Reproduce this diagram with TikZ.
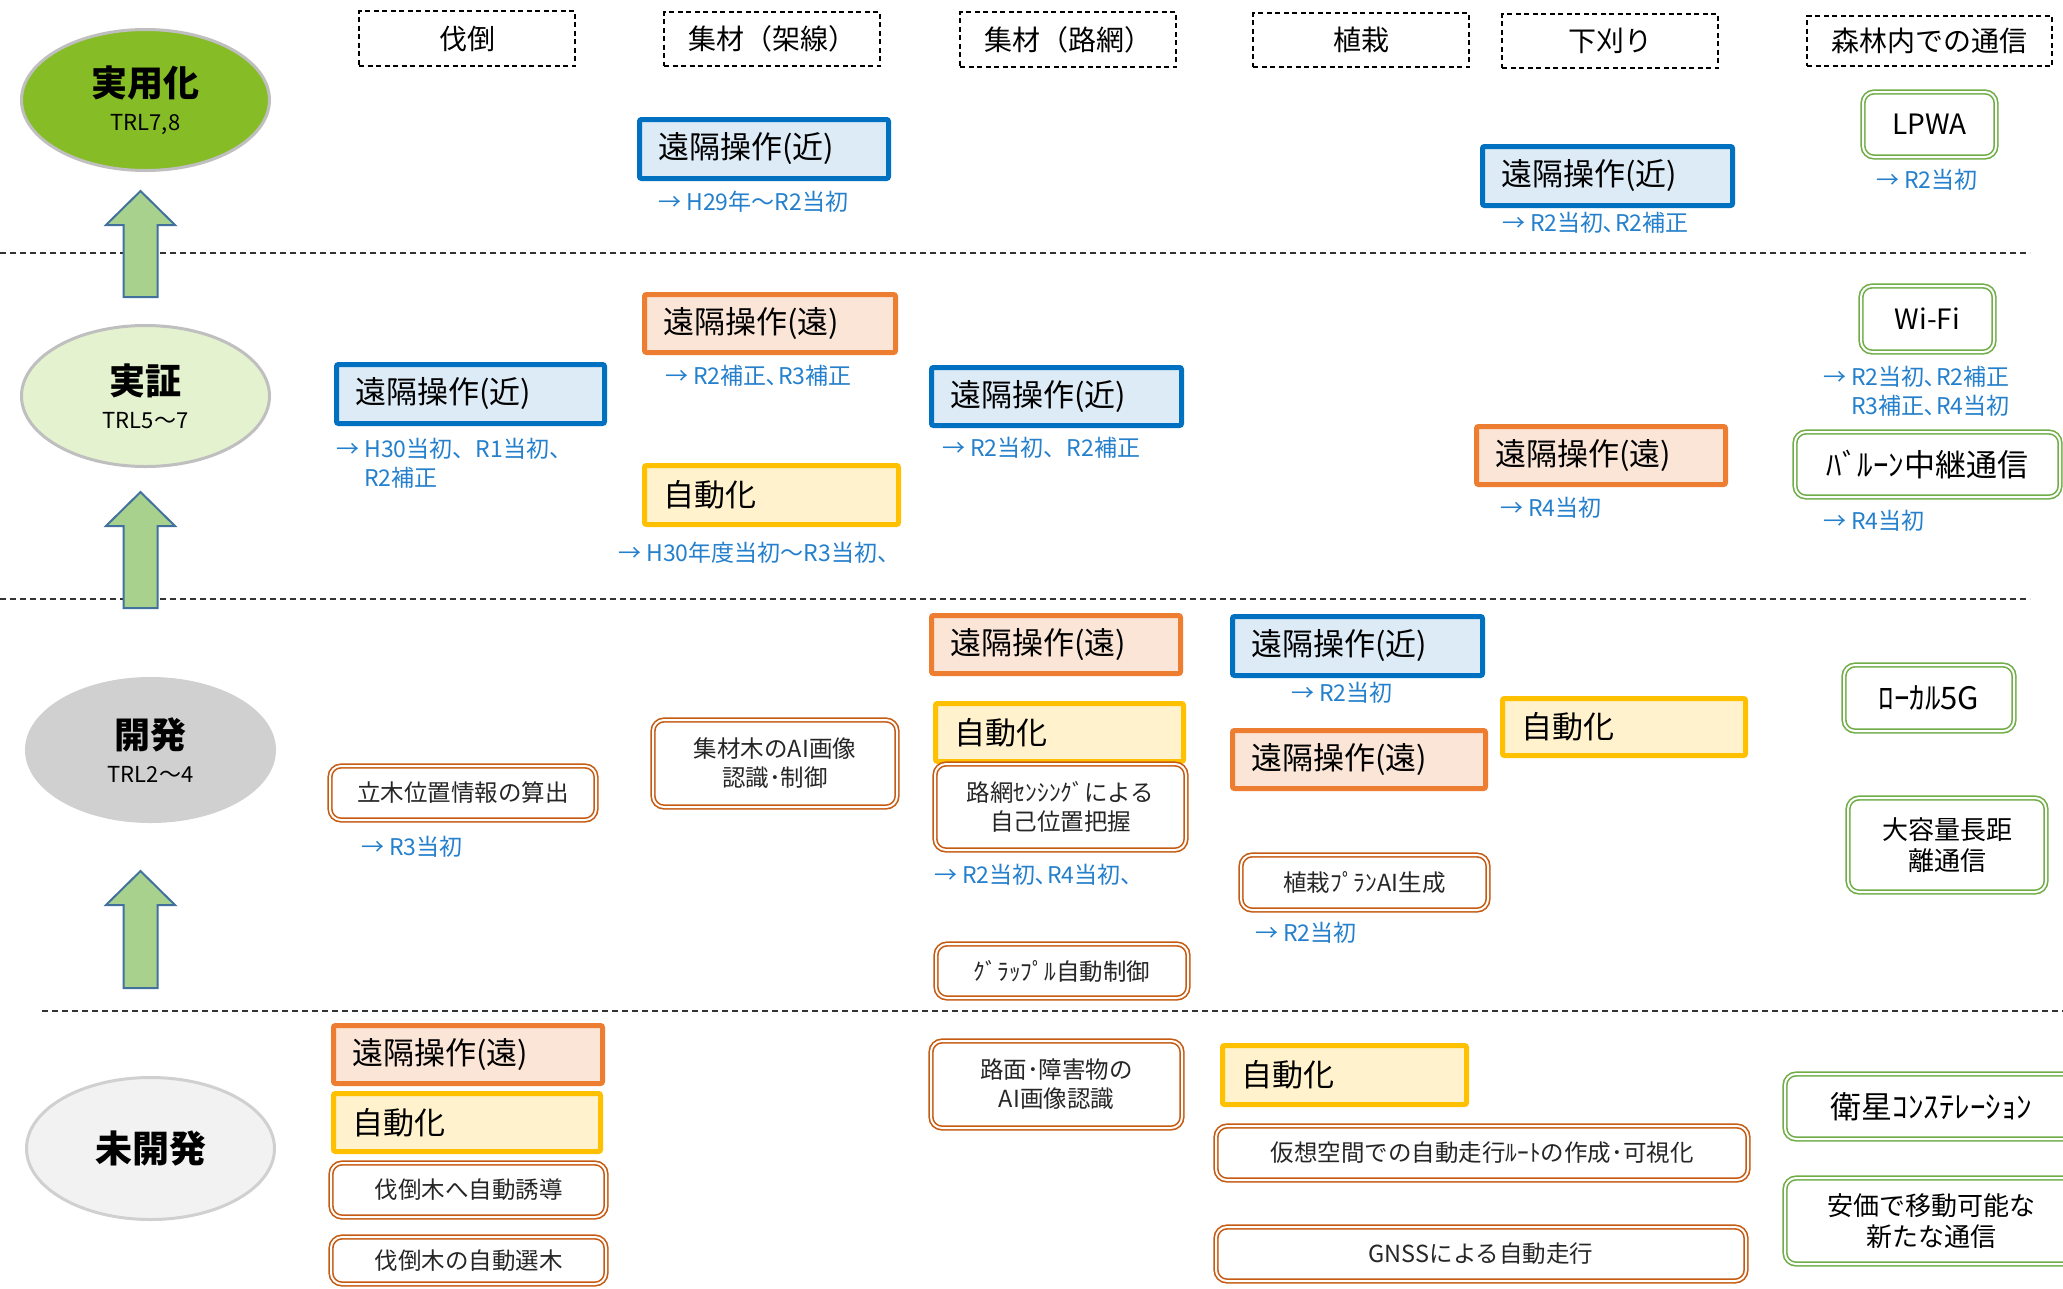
\documentclass[tikz,border=0pt]{standalone}
\usepackage{fontspec}
\setmainfont{Noto Sans CJK JP}
\usetikzlibrary{shapes.geometric}
\definecolor{kinB}{HTML}{0070C0}
\definecolor{kinF}{HTML}{DDEBF7}
\definecolor{enB}{HTML}{ED7D31}
\definecolor{enF}{HTML}{FBE5D6}
\definecolor{auB}{HTML}{FFC000}
\definecolor{auF}{HTML}{FFF2CC}
\definecolor{brn}{HTML}{C55A11}
\definecolor{grn}{HTML}{70AD47}
\definecolor{lbl}{RGB}{36,128,204}
\definecolor{arF}{HTML}{A9D18E}
\definecolor{arB}{HTML}{41719C}
\definecolor{eAF}{HTML}{86BC25}
\definecolor{eBF}{HTML}{E4F2CF}
\definecolor{eCF}{HTML}{D0D0D0}
\definecolor{eDF}{HTML}{F2F2F2}
\definecolor{eBd}{HTML}{BFBFBF}
\newcommand{\myfH}{\fontsize{28}{34}\selectfont}
\newcommand{\myfB}{\fontsize{31}{36}\selectfont}
\newcommand{\myfM}{\fontsize{23.5}{29}\selectfont}
\newcommand{\myfL}{\fontsize{23}{29}\selectfont}
\newcommand{\myfG}{\fontsize{28}{34}\selectfont}
\newcommand{\myfGk}{\fontsize{31}{34}\selectfont}
\newcommand{\myfGs}{\fontsize{26}{31}\selectfont}
\newcommand{\myfE}{\fontsize{36}{38}\selectfont}
\newcommand{\myfT}{\fontsize{22}{26}\selectfont}
\tikzset{
  hdr/.style={draw=black, line width=1.5pt, dash pattern=on 5pt off 3.5pt, font=\myfH, inner sep=0pt, align=center},
  cbox/.style={line width=5pt, rounded corners=2pt, font=\myfB, align=left, inner xsep=19pt, inner ysep=0pt},
  kin/.style={cbox, draw=kinB, fill=kinF},
  en/.style={cbox, draw=enB, fill=enF},
  au/.style={cbox, draw=auB, fill=auF},
  dbox/.style={draw=#1, double=white, line width=1.6pt, double distance=2pt, rounded corners=11pt, align=center, inner sep=0pt},
  brbox/.style={dbox=brn, font=\myfM, text=black!85},
  grbox/.style={dbox=grn, font=\myfG},
  lab/.style={anchor=west, font=\myfL, text=lbl, align=left, inner sep=0pt},
  sep/.style={line width=1.5pt, dash pattern=on 6pt off 4pt, draw=black!80},
  barrow/.style={fill=arF, draw=arB, line width=2pt, line join=miter},
  stage/.style={ellipse, inner sep=0pt, align=center, line width=3pt, font=\myfE},
}
% colored box: name, style, x1, y1, x2, y2, text
\newcommand{\CB}[7]{%
  \pgfmathsetmacro{\qx}{(#3+#5)/2}\pgfmathsetmacro{\qy}{(#4+#6)/2}%
  \pgfmathsetmacro{\qh}{#6-#4-5}\pgfmathsetmacro{\qt}{#5-#3-5-38}%
  \node[#2, text width=\qt pt, minimum height=\qh pt] (#1) at (\qx,\qy) {#7};}
% centered box: name, style, x1, y1, x2, y2, text
\newcommand{\DB}[7]{%
  \pgfmathsetmacro{\qx}{(#3+#5)/2}\pgfmathsetmacro{\qy}{(#4+#6)/2}%
  \pgfmathsetmacro{\qw}{#5-#3-4}\pgfmathsetmacro{\qh}{#6-#4-4}%
  \node[#2, minimum width=\qw pt, minimum height=\qh pt] (#1) at (\qx,\qy) {#7};}
\newcommand{\UpArr}[3]{\draw[barrow] (#1,#2) -- ({#1+34.5},{#2+34}) -- ({#1+17},{#2+34}) -- ({#1+17},#3) -- ({#1-17},#3) -- ({#1-17},{#2+34}) -- ({#1-34.5},{#2+34}) -- cycle;}
\begin{document}
\begin{tikzpicture}[x=1pt,y=-1pt]
\useasboundingbox (0,0) rectangle (2063,1288);
\clip (0,0) rectangle (2063,1288);
\fill[white] (0,0) rectangle (2063,1288);
% separators
\draw[sep] (0,253) -- (2030,253);
\draw[sep] (0,599) -- (2030,599);
\draw[sep] (42,1011) -- (2063,1011);
% stages
\node[stage, fill=eAF, draw=eBd, minimum width=248pt, minimum height=141pt] (e1) at (145.5,100) {{\bfseries 実用化}\\[-4pt]{\myfT TRL7,8}};
\node[stage, fill=eBF, draw=eBd, minimum width=248pt, minimum height=141pt] (e2) at (145.5,396) {{\bfseries 実証}\\[-4pt]{\myfT TRL5～7}};
\node[stage, fill=eCF, draw=eCF, minimum width=248pt, minimum height=143pt] (e3) at (150.5,750) {{\bfseries 開発}\\[-4pt]{\myfT TRL2～4}};
\node[stage, fill=eDF, draw=eCF, minimum width=248pt, minimum height=142pt, font=\fontsize{37}{40}\selectfont] (e4) at (150.5,1148.5) {\bfseries 未開発};
\UpArr{140.5}{191}{297}
\UpArr{140.5}{492}{608}
\UpArr{140.5}{871}{988}
% headers
\DB{h1}{hdr}{357}{9}{577}{68}{伐倒}
\DB{h2}{hdr}{662}{10}{882}{68}{集材（架線）}
\DB{h3}{hdr}{958}{10}{1178}{69}{集材（路網）}
\DB{h4}{hdr}{1251}{11}{1471}{69}{植栽}
\DB{h5}{hdr}{1500}{12}{1720}{70}{下刈り}
\DB{h6}{hdr}{1805}{14}{2054}{68}{森林内での通信}
% colored boxes
\CB{b1}{kin}{637}{117}{891}{181}{遠隔操作(近)}
\CB{b2}{kin}{1480}{144}{1735}{208}{遠隔操作(近)}
\CB{b3}{kin}{334}{362}{607}{426}{遠隔操作(近)}
\CB{b4}{kin}{929}{365}{1184}{428}{遠隔操作(近)}
\CB{b5}{kin}{1230}{614}{1485}{678}{遠隔操作(近)}
\CB{o1}{en}{642}{292}{898}{355}{遠隔操作(遠)}
\CB{o2}{en}{1474}{424}{1728}{487}{遠隔操作(遠)}
\CB{o3}{en}{929}{613}{1183}{676}{遠隔操作(遠)}
\CB{o4}{en}{1230}{728}{1488}{791}{遠隔操作(遠)}
\CB{o5}{en}{331}{1023}{605}{1086}{遠隔操作(遠)}
\CB{y1}{au}{642}{463}{901}{527}{自動化}
\CB{y2}{au}{933}{701}{1186}{764}{自動化}
\CB{y3}{au}{1500}{696}{1748}{758}{自動化}
\CB{y4}{au}{331}{1091}{603}{1154}{自動化}
\CB{y5}{au}{1220}{1043}{1469}{1107}{自動化}
% brown double boxes
\DB{d1}{brbox}{328}{764}{598}{822}{立木位置情報の算出}
\DB{d2}{brbox}{651}{718}{899}{809}{集材木のAI画像\\認識･制御}
\DB{d3}{brbox}{933}{762}{1188}{852}{路網ｾﾝｼﾝｸﾞによる\\自己位置把握}
\DB{d4}{brbox}{934}{942}{1190}{1000}{ｸﾞﾗｯﾌﾟﾙ自動制御}
\DB{d5}{brbox}{1239}{853}{1490}{912}{植栽ﾌﾟﾗﾝAI生成}
\DB{d6}{brbox}{329}{1161}{608}{1219}{伐倒木へ自動誘導}
\DB{d7}{brbox}{329}{1235}{608}{1286}{伐倒木の自動選木}
\DB{d8}{brbox}{929}{1039}{1184}{1130}{路面･障害物の\\AI画像認識}
\DB{d9}{brbox}{1214}{1124}{1750}{1182}{仮想空間での自動走行ﾙｰﾄの作成･可視化}
\DB{d10}{brbox}{1214}{1225}{1748}{1283}{GNSSによる自動走行}
% green double boxes
\DB{g1}{grbox}{1861}{90}{1998}{159}{LPWA}
\DB{g2}{grbox}{1859}{284}{1996}{354}{Wi-Fi}
\DB{g3}{grbox, font=\myfGk}{1793}{430}{2062}{499}{ﾊﾞﾙｰﾝ中継通信}
\DB{g4}{grbox, font=\myfGk}{1842}{663}{2016}{733}{ﾛｰｶﾙ5G}
\DB{g5}{grbox, font=\myfGs}{1846}{796}{2048}{894}{大容量長距\\離通信}
\DB{g6}{grbox, font=\myfGk}{1783}{1072}{2080}{1141}{衛星ｺﾝｽﾃﾚｰｼｮﾝ}
\DB{g7}{grbox, font=\myfGs}{1783}{1176}{2080}{1266}{安価で移動可能な\\新たな通信}
% budget labels
\node[lab] (t1) at (658,202) {→ H29年～R2当初};
\node[lab] (t2) at (1876,180) {→ R2当初};
\node[lab] (t3) at (1502,223) {→ R2当初､R2補正};
\node[lab] (t4) at (336,463.5) {→ H30当初、R1当初、\\\phantom{→ }R2補正};
\node[lab] (t5) at (665,376) {→ R2補正､R3補正};
\node[lab] (t6) at (942,448) {→ R2当初、R2補正};
\node[lab] (t7) at (618,553) {→ H30年度当初～R3当初、};
\node[lab] (t8) at (1823,391.5) {→ R2当初､R2補正\\\phantom{→ }R3補正､R4当初};
\node[lab] (t9) at (1500,508) {→ R4当初};
\node[lab] (t10) at (1823,521) {→ R4当初};
\node[lab] (t11) at (361,847) {→ R3当初};
\node[lab] (t12) at (934,875) {→ R2当初､R4当初、};
\node[lab] (t13) at (1291,693) {→ R2当初};
\node[lab] (t14) at (1255,933) {→ R2当初};
\end{tikzpicture}
\end{document}
